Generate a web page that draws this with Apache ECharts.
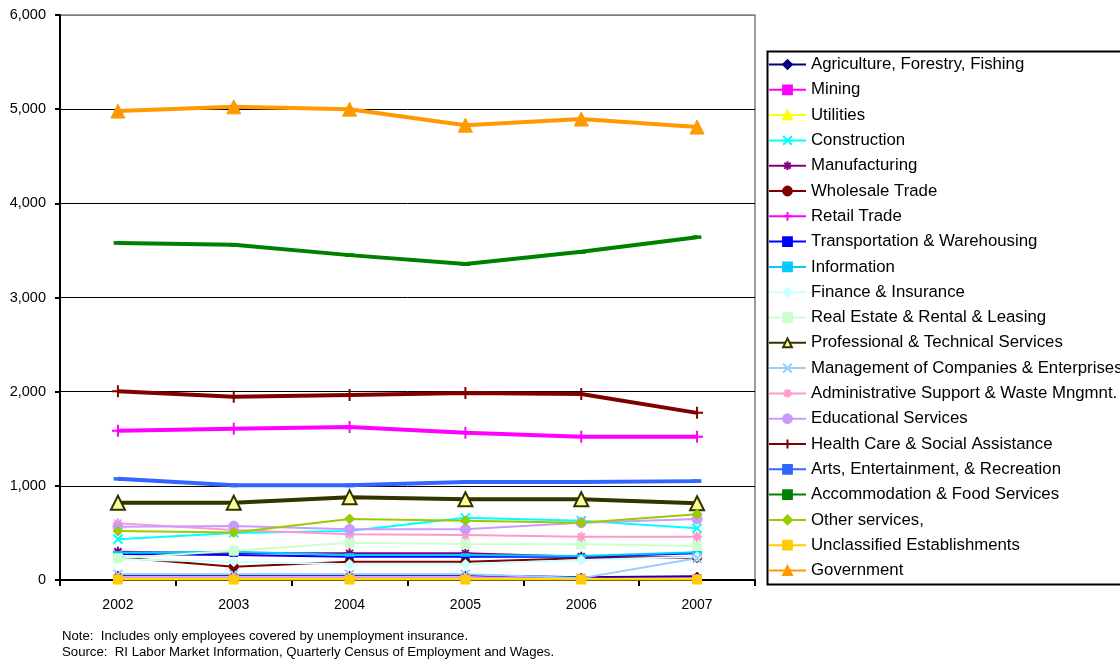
<!DOCTYPE html>
<html>
<head>
<meta charset="utf-8">
<script src="https://cdn.jsdelivr.net/npm/echarts@6/dist/echarts.min.js"></script>
<style>
html,body{margin:0;padding:0;background:#fff;}
#chart{width:1120px;height:660px;}
</style>
</head>
<body>
<div id="chart"></div>
<script>
var years = ['2002','2003','2004','2005','2006','2007'];
var yTicks = [0,1000,2000,3000,4000,5000,6000];

var agriculture    = [50, 50, 50, 50, 30, 40];
var mining         = [15, 15, 15, 15, 15, 15];
var utilities      = [10, 10, 10, 10, 10, 10];
var construction   = [432, 500, 520, 660, 630, 549];
var manufacturing  = [300, 287, 283, 283, 248, 236];
var wholesale      = [241, 142, 195, 195, 230, 241];
var retail         = [1585, 1605, 1625, 1565, 1520, 1520];
var transportation = [276, 265, 248, 248, 248, 283];
var information    = [290, 300, 265, 265, 256, 294];
var finance        = [220, 195, 167, 167, 212, 248];
var realEstate     = [230, 311, 396, 382, 379, 361];
var professional   = [820, 820, 880, 857, 857, 815];
var management     = [60, 60, 60, 60, 20, 230];
var adminSupport   = [602, 531, 485, 478, 460, 460];
var educational    = [566, 573, 538, 538, 608, 648];
var healthCare     = [2005, 1945, 1965, 1985, 1975, 1775];
var arts           = [1075, 1005, 1005, 1040, 1040, 1050];
var accommodation  = [3580, 3560, 3450, 3355, 3485, 3640];
var otherServices  = [520, 505, 648, 630, 608, 698];
var unclassified   = [5, 5, 5, 5, 5, 5];
var government     = [4980, 5025, 5000, 4830, 4895, 4810];

var names = ['Agriculture, Forestry, Fishing','Mining','Utilities','Construction','Manufacturing',
  'Wholesale Trade','Retail Trade','Transportation & Warehousing','Information','Finance & Insurance',
  'Real Estate & Rental & Leasing','Professional & Technical Services','Management of Companies & Enterprises',
  'Administrative Support & Waste Mngmnt.','Educational Services','Health Care & Social Assistance',
  'Arts, Entertainment, & Recreation','Accommodation & Food Services','Other services,',
  'Unclassified Establishments','Government'];
var values = [agriculture, mining, utilities, construction, manufacturing, wholesale, retail,
  transportation, information, finance, realEstate, professional, management, adminSupport,
  educational, healthCare, arts, accommodation, otherServices, unclassified, government];

var X = 'path://M0,0L10,10M10,0L0,10';
var AST = 'path://M5,0L5,10M0,5L10,5M1.5,1.5L8.5,8.5M8.5,1.5L1.5,8.5';
var PLUS = 'path://M5,0L5,10M0,5L10,5';

// style: [lineColor, lineWidth, symbol, symbolSize, fill, border, borderWidth]
var styles = [
  ['#000080', 2, 'diamond', 8, '#000080', '#000080', 1],
  ['#FF00FF', 2, 'rect', 8, '#FF00FF', '#FF00FF', 1],
  ['#FFFF00', 2, 'triangle', 9, '#FFFF00', '#FFFF00', 1],
  ['#00FFFF', 2, X, 9, '#00FFFF', '#00FFFF', 2],
  ['#800080', 2, AST, 10, '#800080', '#800080', 2],
  ['#800000', 2, 'circle', 9, '#800000', '#800000', 1],
  ['#FF00FF', 4, PLUS, 12, '#FF00FF', '#FF00FF', 2],
  ['#0000FF', 2, 'rect', [7,3], '#0000FF', '#0000FF', 1],
  ['#00CCFF', 2, 'rect', [8,3], '#00CCFF', '#00CCFF', 1],
  ['#CCFFFF', 2, 'diamond', 10, '#CCFFFF', '#CCFFFF', 1],
  ['#CCFFCC', 2, 'rect', 9, '#CCFFCC', '#CCFFCC', 1],
  ['#333300', 4, 'triangle', 14, '#FFFF99', '#333300', 2],
  ['#99CCFF', 2, X, 9, '#99CCFF', '#99CCFF', 2],
  ['#FF99CC', 2, AST, 10, '#FF99CC', '#FF99CC', 2],
  ['#CC99FF', 2, 'circle', 10, '#CC99FF', '#CC99FF', 1],
  ['#800000', 4, PLUS, 12, '#800000', '#800000', 2],
  ['#3366FF', 4, 'rect', [7,3], '#3366FF', '#3366FF', 1],
  ['#008000', 4, 'rect', [7,3], '#008000', '#008000', 1],
  ['#99CC00', 2, 'diamond', 10, '#99CC00', '#99CC00', 1],
  ['#FFCC00', 2, 'rect', 9, '#FFCC00', '#FFCC00', 1],
  ['#FF9900', 4, 'triangle', 14, '#FF9900', '#FF9900', 1]
];

var series = names.map(function(n, i){
  var s = styles[i];
  return {
    name: n, type: 'line', data: values[i],
    symbol: s[2], symbolSize: s[3], showAllSymbol: true,
    lineStyle: {color: s[0], width: s[1]},
    itemStyle: {color: s[4], borderColor: s[5], borderWidth: s[6]},
    emphasis: {disabled: true}, animation: false, z: 2
  };
});

var chart = echarts.init(document.getElementById('chart'), null, {renderer: 'canvas'});
chart.setOption({
  backgroundColor: '#fff',
  animation: false,
  textStyle: {fontFamily: 'Liberation Sans, Arial, sans-serif'},
  grid: {left: 60, right: 365, top: 15, bottom: 80, show: true, borderColor: '#808080', borderWidth: 1.5, backgroundColor: 'transparent'},
  xAxis: {
    type: 'category', data: years, boundaryGap: true,
    axisLine: {lineStyle: {color: '#000', width: 2}},
    axisTick: {show: true, length: 6, inside: false, lineStyle: {color: '#000', width: 2}},
    axisLabel: {color: '#000', fontSize: 14, margin: 18, fontFamily: 'Liberation Sans, Arial'}
  },
  yAxis: {
    type: 'value', min: 0, max: 6000, interval: 1000,
    axisLine: {show: true, lineStyle: {color: '#000', width: 2}},
    axisTick: {show: true, length: 5, lineStyle: {color: '#000', width: 2}},
    axisLabel: {color: '#000', fontSize: 14.5, margin: 14, fontFamily: 'Liberation Sans, Arial',
      formatter: function(v){ return v === 0 ? '0' : v.toLocaleString('en-US'); }},
    splitLine: {show: true, lineStyle: {color: ['#000','#000','#000','#000','#000','#000','#808080'], width: 1}}
  },
  legend: {
    orient: 'vertical', left: 768, top: 56, padding: 0,
    itemWidth: 37, itemHeight: 11, itemGap: 8.3,
    selectedMode: false,
    textStyle: {color: '#000', fontSize: 16.8, lineHeight: 17, fontFamily: 'Liberation Sans, Arial'},
    data: names
  },
  graphic: [
    {type: 'rect', left: 765, top: 49, shape: {width: 420, height: 533}, style: {fill: 'none', stroke: '#000', lineWidth: 2}, z: 0},
    {type: 'text', left: 62, top: 630, style: {text: 'Note:  Includes only employees covered by unemployment insurance.', fill: '#000', font: '13.2px "Liberation Sans", Arial'}},
    {type: 'text', left: 62, top: 646, style: {text: 'Source:  RI Labor Market Information, Quarterly Census of Employment and Wages.', fill: '#000', font: '13.2px "Liberation Sans", Arial'}}
  ],
  series: series
});
</script>
</body>
</html>
